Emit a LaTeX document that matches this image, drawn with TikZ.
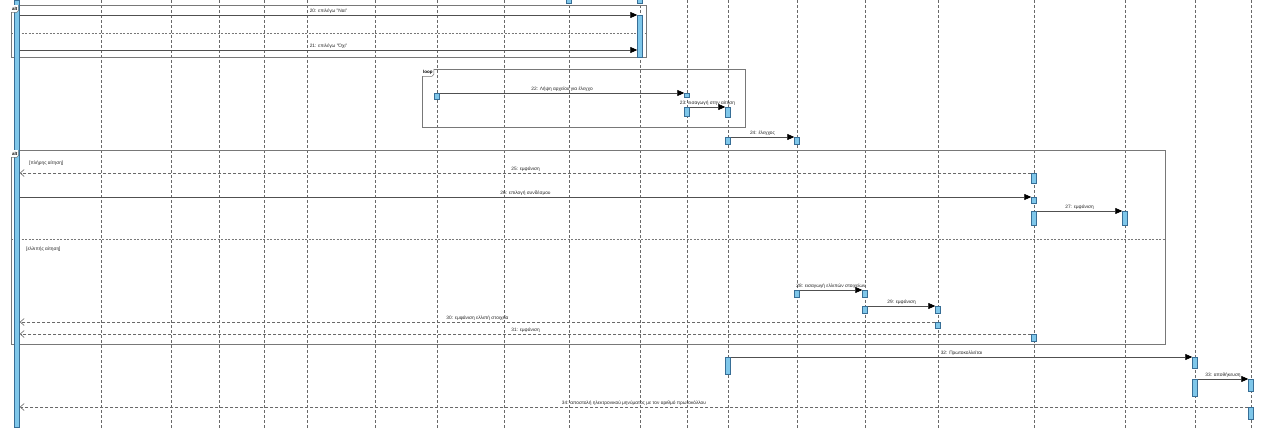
\documentclass[tikz,border=0pt]{standalone}
\usepackage{fontspec}
\setmainfont{Liberation Sans}
\usepackage{xcolor}
\usepackage{tikz}
\usetikzlibrary{calc}
\usetikzlibrary{arrows.meta,positioning}

\definecolor{actfill}{RGB}{127,199,234}
\definecolor{actline}{RGB}{55,110,150}
\definecolor{lifegray}{RGB}{105,105,105}
\definecolor{framegray}{RGB}{120,120,120}
\definecolor{msggray}{RGB}{80,80,80}

\tikzset{
  lifeline/.style={lifegray, line width=0.6pt, dash pattern=on 3pt off 2pt},
  act/.style={draw=actline, fill=actfill, line width=0.5pt, minimum width=5pt, minimum height=#1, inner sep=0pt, anchor=north},
  msg/.style={msggray, line width=0.6pt, -{Triangle[length=7pt,width=6pt,color=black]}},
  ret/.style={lifegray, line width=0.6pt, dash pattern=on 3pt off 2pt, -{Straight Barb[length=4pt,width=7pt]}},
  lbl/.style={font=\fontsize{4.8}{5.5}\selectfont, text=black!85, inner sep=1.3pt, above, midway},
  frame/.style={draw=framegray, line width=0.7pt},
  sep/.style={framegray, line width=0.5pt, dash pattern=on 2pt off 1.5pt},
  tag/.style={font=\fontsize{4.5}{5}\selectfont\bfseries, inner sep=1pt, anchor=north west, minimum height=7pt, fill=white},
  guard/.style={font=\fontsize{4.8}{5.5}\selectfont, text=black!85, anchor=west, inner sep=0pt}
}

\begin{document}
\begin{tikzpicture}[x=1pt,y=-1pt]
  \useasboundingbox (0,0) rectangle (1263,428);
  \fill[white] (0,0) rectangle (1263,428);

  \foreach \lx in {17,101,171,219,264,307,375,437,504,569,640,687,728,797,865,938,1034,1125,1195,1251}
    \draw[lifeline] (\lx,0) -- (\lx,428);

  \draw[frame] (11,5) rectangle (646,57);
  \draw[sep] (11,33) -- (646,33);
  \draw[frame] (422,69) rectangle (745,127);
  \draw[frame] (11,150) rectangle (1165,344);
  \draw[sep] (11,239) -- (1165,239);

  \node[act=427] (b1) at (17,0) {};
  \node[act=8] (t10) at (569,-5) {};
  \node[act=8] (t11) at (640,-5) {};
  \node[act=42] (b11) at (640,15) {};
  \node[act=6] (b8) at (437,93) {};
  \node[act=4] (b12a) at (687,93) {};
  \node[act=9] (b12b) at (687,107) {};
  \node[act=10] (b13a) at (728,107) {};
  \node[act=7] (b13b) at (728,137) {};
  \node[act=7] (b14a) at (797,137) {};
  \node[act=10] (b17a) at (1034,173) {};
  \node[act=6] (b17b) at (1034,197) {};
  \node[act=14] (b17c) at (1034,211) {};
  \node[act=14] (b18) at (1125,211) {};
  \node[act=7] (b14b) at (797,290) {};
  \node[act=7] (b15a) at (865,290) {};
  \node[act=7] (b15b) at (865,306) {};
  \node[act=7] (b16a) at (938,306) {};
  \node[act=6] (b16b) at (938,322) {};
  \node[act=7] (b17d) at (1034,334) {};
  \node[act=17] (b13c) at (728,357) {};
  \node[act=11] (b19a) at (1195,357) {};
  \node[act=17] (b19b) at (1195,379) {};
  \node[act=12] (b20a) at (1251,379) {};
  \node[act=12] (b20b) at (1251,407) {};

  \node[tag] (alt1) at (11,5) {alt};
  \draw[framegray, line width=0.5pt] (alt1.north east) -- ([yshift=2pt]alt1.south east) -- ([xshift=-2pt]alt1.south east) -- (alt1.south west);
  \node[tag] (loop1) at (422,69) {loop};
  \draw[framegray, line width=0.5pt] (loop1.north east) -- ([yshift=2pt]loop1.south east) -- ([xshift=-2pt]loop1.south east) -- (loop1.south west);
  \node[tag] (alt2) at (11,150) {alt};
  \draw[framegray, line width=0.5pt] (alt2.north east) -- ([yshift=2pt]alt2.south east) -- ([xshift=-2pt]alt2.south east) -- (alt2.south west);

  \node[guard] (g1) at (29,163) {[πλήρης αίτηση]};
  \node[guard] (g2) at (26,249) {[ελλιπής αίτηση]};

  \coordinate (m21) at (640,50);
  \draw[msg] (b1.east |- b11.north) -- (b11.north west) node[lbl] {20: επιλέγω "Ναι"};
  \draw[msg] (b1.east |- m21) -- (b11.west |- m21) node[lbl] {21: επιλέγω "Όχι"};
  \draw[msg] (b8.north east) -- (b12a.north west) node[lbl] {22: Λήψη αρχείου για έλεγχο};
  \draw[msg] (b12b.north east) -- (b13a.north west) node[lbl] {23: εισαγωγή στην αίτηση};
  \draw[msg] (b13b.north east) -- (b14a.north west) node[lbl] {24: έλεγχος};
  \draw[ret] (b17a.north west) -- (b1.east |- b17a.north) node[lbl] {25: εμφάνιση};
  \draw[msg] (b1.east |- b17b.north) -- (b17b.north west) node[lbl] {26: επιλογή συνδέσμου};
  \draw[msg] (b17c.north east) -- (b18.north west) node[lbl] {27: εμφάνιση};
  \draw[msg] (b14b.north east) -- (b15a.north west) node[lbl] {28: εισαγωγή ελλιπών στοιχείων};
  \draw[msg] (b15b.north east) -- (b16a.north west) node[lbl] {29: εμφάνιση};
  \draw[ret] (b16b.north west) -- (b1.east |- b16b.north) node[lbl] {30: εμφάνιση ελλιπή στοιχεία};
  \draw[ret] (b17d.north west) -- (b1.east |- b17d.north) node[lbl] {31: εμφάνιση};
  \draw[msg] (b13c.north east) -- (b19a.north west) node[lbl] {32: Πρωτοκολλείται};
  \draw[msg] (b19b.north east) -- (b20a.north west) node[lbl] {33: αποθήκευση};
  \draw[ret] (b20b.north west) -- (b1.east |- b20b.north) node[lbl] {34: αποστολή ηλεκτρονικού μηνύματος με τον αριθμό πρωτοκόλλου};
\end{tikzpicture}
\end{document}
